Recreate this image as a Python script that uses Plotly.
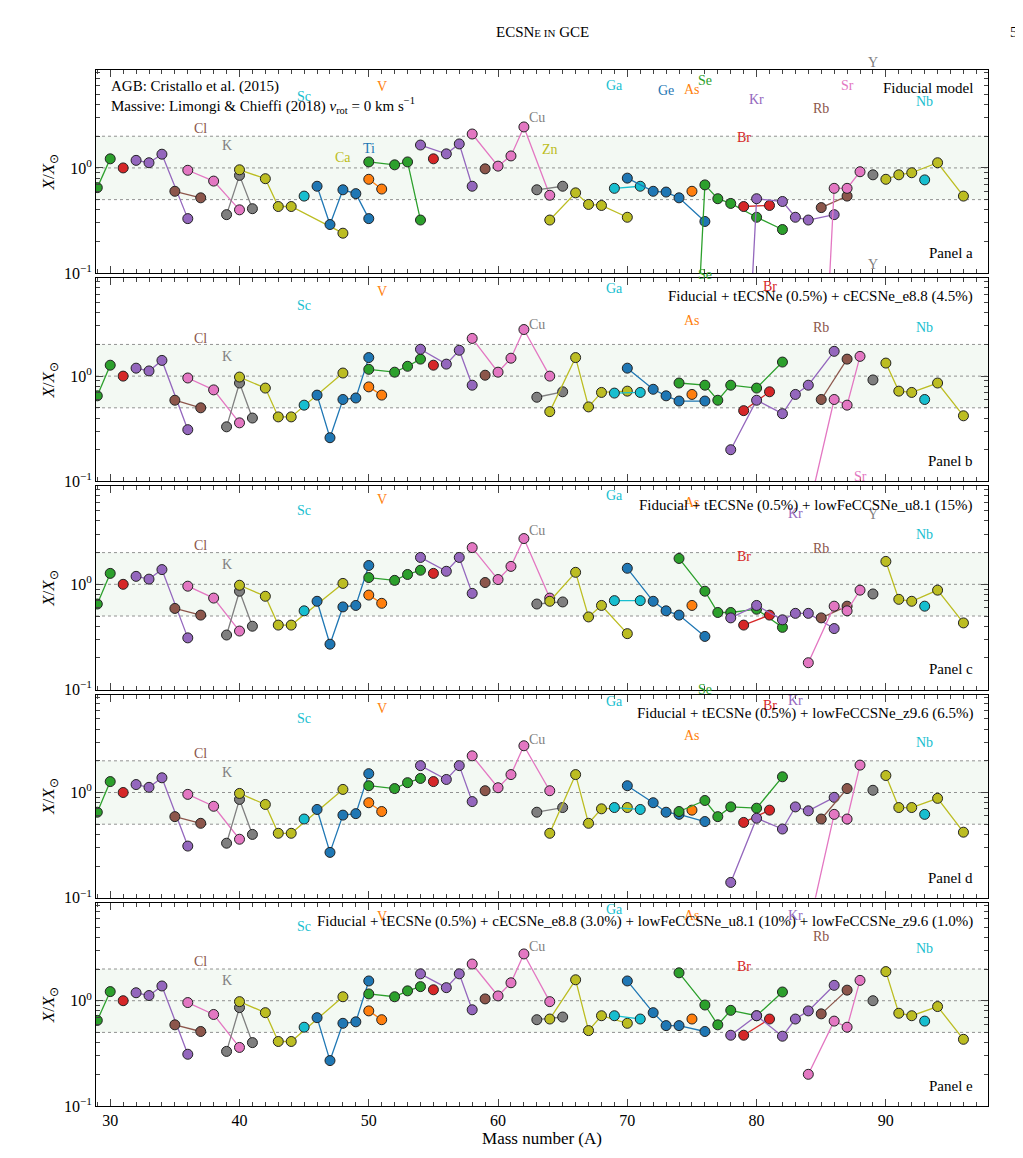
import plotly.graph_objects as go
from plotly.subplots import make_subplots

elements = ["Si","P","S","Cl","Ar","K","Ca","Sc","Ti","V","Cr","Mn","Fe","Co","Ni","Cu","Zn","Ga","Ge","As","Se","Br","Kr","Rb","Sr","Y","Zr","Nb"]
masses = {
 "Si":[29,30],"P":[31],"S":[32,33,34,36],"Cl":[35,37],"Ar":[36,38,40],"K":[39,40,41],
 "Ca":[40,42,43,44,48],"Sc":[45],"Ti":[46,47,48,49,50],"V":[50,51],"Cr":[50,52,53,54],
 "Mn":[55],"Fe":[54,56,57,58],"Co":[59],"Ni":[58,60,61,62,64],"Cu":[63,65],
 "Zn":[64,66,67,68,70],"Ga":[69,71],"Ge":[70,72,73,74,76],"As":[75],
 "Se":[74,76,77,78,80,82],"Br":[79,81],"Kr":[78,80,82,83,84,86],"Rb":[85,87],
 "Sr":[84,86,87,88],"Y":[89],"Zr":[90,91,92,94,96],"Nb":[93]}

panel_a = {"Si":[0.65,1.22],"P":[1.0],"S":[1.18,1.12,1.35,0.33],"Cl":[0.6,0.52],"Ar":[0.95,0.75,0.4],
 "K":[0.36,0.85,0.41],"Ca":[0.96,0.79,0.43,0.43,0.24],"Sc":[0.54],"Ti":[0.67,0.29,0.62,0.57,0.33],
 "V":[0.78,0.63],"Cr":[1.14,1.07,1.14,0.32],"Mn":[1.22],"Fe":[1.65,1.36,1.69,0.67],"Co":[0.98],
 "Ni":[2.1,1.04,1.3,2.45,0.55],"Cu":[0.62,0.67],"Zn":[0.32,0.58,0.45,0.44,0.34],"Ga":[0.64,0.67],
 "Ge":[0.8,0.6,0.59,0.52,0.31],"As":[0.6],"Se":[1e-5,0.69,0.51,0.46,0.34,0.26],"Br":[0.43,0.44],
 "Kr":[1e-5,0.51,0.48,0.34,0.32,0.36],"Rb":[0.42,0.54],"Sr":[1e-5,0.64,0.64,0.92],"Y":[0.86],
 "Zr":[0.78,0.86,0.9,1.12,0.54],"Nb":[0.77]}
panel_b = {"Si":[0.65,1.27],"P":[1.0],"S":[1.19,1.12,1.41,0.31],"Cl":[0.59,0.5],"Ar":[0.96,0.74,0.36],
 "K":[0.33,0.86,0.4],"Ca":[0.98,0.77,0.41,0.41,1.07],"Sc":[0.53],"Ti":[0.66,0.26,0.6,0.62,1.5],
 "V":[0.79,0.66],"Cr":[1.16,1.09,1.24,1.45],"Mn":[1.27],"Fe":[1.8,1.3,1.76,0.82],"Co":[1.02],
 "Ni":[2.28,1.09,1.48,2.77,1.0],"Cu":[0.63,0.71],"Zn":[0.46,1.5,0.51,0.7,0.72],"Ga":[0.69,0.7],
 "Ge":[1.19,0.75,0.65,0.58,0.58],"As":[0.67],"Se":[0.86,0.82,0.59,0.82,0.77,1.36],"Br":[0.47,0.71],
 "Kr":[0.2,0.59,0.44,0.67,0.82,1.72],"Rb":[0.6,1.45],"Sr":[0.052,0.6,0.53,1.54],"Y":[0.92],
 "Zr":[1.33,0.72,0.7,0.86,0.42],"Nb":[0.6]}
panel_c = {"Si":[0.65,1.27],"P":[1.0],"S":[1.19,1.12,1.38,0.31],"Cl":[0.59,0.51],"Ar":[0.96,0.74,0.36],
 "K":[0.33,0.86,0.4],"Ca":[0.98,0.77,0.41,0.41,1.02],"Sc":[0.56],"Ti":[0.69,0.27,0.61,0.63,1.51],
 "V":[0.79,0.66],"Cr":[1.16,1.09,1.24,1.36],"Mn":[1.27],"Fe":[1.8,1.33,1.8,0.82],"Co":[1.04],
 "Ni":[2.23,1.11,1.48,2.72,0.74],"Cu":[0.65,0.68],"Zn":[0.69,1.3,0.49,0.63,0.34],"Ga":[0.7,0.7],
 "Ge":[1.42,0.69,0.56,0.51,0.32],"As":[0.63],"Se":[1.76,0.86,0.54,0.54,0.58,0.39],"Br":[0.41,0.51],
 "Kr":[0.48,0.63,0.46,0.53,0.53,0.38],"Rb":[0.48,0.62],"Sr":[0.18,0.62,0.56,0.88],"Y":[0.81],
 "Zr":[1.65,0.72,0.69,0.88,0.43],"Nb":[0.62]}
panel_d = {"Si":[0.65,1.27],"P":[1.0],"S":[1.19,1.12,1.38,0.31],"Cl":[0.59,0.51],"Ar":[0.96,0.74,0.36],
 "K":[0.33,0.86,0.4],"Ca":[0.98,0.77,0.41,0.41,1.07],"Sc":[0.56],"Ti":[0.69,0.27,0.61,0.63,1.51],
 "V":[0.8,0.66],"Cr":[1.16,1.09,1.24,1.36],"Mn":[1.27],"Fe":[1.8,1.33,1.8,0.82],"Co":[1.04],
 "Ni":[2.23,1.11,1.48,2.78,1.04],"Cu":[0.65,0.72],"Zn":[0.41,1.48,0.51,0.7,0.72],"Ga":[0.72,0.69],
 "Ge":[1.16,0.8,0.65,0.62,0.53],"As":[0.68],"Se":[0.66,0.84,0.59,0.73,0.71,1.41],"Br":[0.52,0.68],
 "Kr":[0.14,0.57,0.45,0.73,0.67,0.9],"Rb":[0.56,1.09],"Sr":[0.05,0.62,0.56,1.82],"Y":[1.05],
 "Zr":[1.45,0.72,0.72,0.88,0.42],"Nb":[0.62]}
panel_e = {"Si":[0.65,1.22],"P":[1.0],"S":[1.19,1.12,1.38,0.31],"Cl":[0.59,0.51],"Ar":[0.96,0.74,0.36],
 "K":[0.33,0.86,0.4],"Ca":[0.98,0.77,0.41,0.41,1.09],"Sc":[0.56],"Ti":[0.69,0.27,0.61,0.63,1.54],
 "V":[0.8,0.66],"Cr":[1.16,1.09,1.24,1.36],"Mn":[1.27],"Fe":[1.8,1.33,1.8,0.82],"Co":[1.04],
 "Ni":[2.23,1.11,1.48,2.78,0.98],"Cu":[0.66,0.7],"Zn":[0.67,1.58,0.52,0.72,0.61],"Ga":[0.72,0.67],
 "Ge":[1.54,0.77,0.58,0.58,0.51],"As":[0.67],"Se":[1.84,0.91,0.59,0.81,0.72,1.21],"Br":[0.47,0.67],
 "Kr":[0.47,0.72,0.46,0.67,0.8,1.4],"Rb":[0.75,1.26],"Sr":[0.2,0.64,0.56,1.56],"Y":[1.0],
 "Zr":[1.89,0.76,0.72,0.88,0.43],"Nb":[0.64]}
panels = [panel_a, panel_b, panel_c, panel_d, panel_e]

titles = ["Fiducial model",
 "Fiducial + tECSNe (0.5%) + cECSNe_e8.8 (4.5%)",
 "Fiducial + tECSNe (0.5%) + lowFeCCSNe_u8.1 (15%)",
 "Fiducial + tECSNe (0.5%) + lowFeCCSNe_z9.6 (6.5%)",
 "Fiducial + tECSNe (0.5%) + cECSNe_e8.8 (3.0%) + lowFeCCSNe_u8.1 (10%) + lowFeCCSNe_z9.6 (1.0%)"]
panel_names = ["Panel a","Panel b","Panel c","Panel d","Panel e"]

# label placement: element -> (mass, side)
label_default = {"Si":(30,1),"P":(31,-1),"S":(34,1),"Cl":(37,-1),"Ar":(36,1),"K":(39,-1),
 "Ca":(48,1),"Sc":(45,1),"Ti":(50,1),"V":(51,1),"Cr":(50,1),"Mn":(55,-1),"Fe":(54,1),
 "Co":(59,-1),"Ni":(62,1),"Cu":(63,-1),"Zn":(66,1),"Ga":(69,1),"Ge":(70,1),"As":(75,1),
 "Se":(76,1),"Br":(79,-1),"Kr":(83,1),"Rb":(85,-1),"Sr":(88,1),"Y":(89,1),"Zr":(90,1),"Nb":(93,-1)}
label_override = [
 {"Ca":(48,-1),"Ti":(50,-1),"Zn":(64,-1),"Ge":(73,1),"Kr":(80,1),"Rb":(85,1),"Sr":(87,1),"Zr":(94,1)},
 {"As":(75,-1),"Br":(81,1),"Kr":(86,1)},
 {"Se":(74,1),"Y":(89,-1)},
 {"As":(75,-1),"Br":(81,1),"Rb":(87,1)},
 {"Se":(74,1)},
]

tab10 = ["#2ca02c","#d62728","#9467bd","#8c564b","#e377c2","#7f7f7f","#bcbd22","#17becf","#1f77b4","#ff7f0e"]
SERIF = "Liberation Serif"

fig = make_subplots(rows=5, cols=1, shared_xaxes=True, vertical_spacing=0.0048)

for p, data in enumerate(panels):
    row = p + 1
    for i, el in enumerate(elements):
        col = tab10[i % 10]
        fig.add_trace(go.Scatter(x=masses[el], y=data[el], mode="lines+markers",
            line=dict(color=col, width=1.3),
            marker=dict(color=col, size=10, line=dict(color="#222", width=1)),
            showlegend=False, hoverinfo="skip"), row=row, col=1)
    xr = "x" if row == 1 else f"x{row}"
    yr = "y" if row == 1 else f"y{row}"
    fig.add_shape(type="rect", xref=f"{xr} domain", yref=yr, x0=0, x1=1, y0=0.5, y1=2,
                  fillcolor="rgba(44,160,44,0.06)", line=dict(width=0), layer="below")
    for v in [0.5, 1, 2]:
        fig.add_shape(type="line", xref=f"{xr} domain", yref=yr, x0=0, x1=1, y0=v, y1=v,
                      line=dict(color="#777", width=0.8, dash="dot"), layer="below")
    ov = dict(label_default); ov.update(label_override[p])
    for i, el in enumerate(elements):
        m, side = ov[el]
        y = data[el][masses[el].index(m)]
        fig.add_annotation(x=m, y=y, xref=xr, yref=yr, text=el, showarrow=False,
            yshift=15*side, font=dict(family=SERIF, size=14, color=tab10[i % 10]))
    fig.add_annotation(xref=f"{xr} domain", yref=f"{yr} domain", x=0.985, y=0.96, text=titles[p],
        showarrow=False, xanchor="right", yanchor="top", font=dict(family=SERIF, size=15, color="black"))
    fig.add_annotation(xref=f"{xr} domain", yref=f"{yr} domain", x=0.985, y=0.05, text=panel_names[p],
        showarrow=False, xanchor="right", yanchor="bottom", font=dict(family=SERIF, size=15, color="black"))
    fig.update_yaxes(row=row, col=1, type="log", range=[-1, 0.93],
        tickvals=[0.1, 1], ticktext=["10<sup>−1</sup>", "10<sup>0</sup>"],
        ticks="inside", ticklen=7, showline=True, linecolor="black", linewidth=1, mirror="allticks",
        showgrid=False, zeroline=False,
        minor=dict(ticks="inside", ticklen=4, tickvals=[0.2,0.3,0.4,0.5,0.6,0.7,0.8,0.9,2,3,4,5,6,7,8], showgrid=False),
        title=dict(text="<i>X</i>/<i>X</i><sub>⊙</sub>", standoff=4, font=dict(family=SERIF, size=17)),
        tickfont=dict(family=SERIF, size=16))
    fig.update_xaxes(row=row, col=1, range=[28.9, 97.9], tickvals=[30,40,50,60,70,80,90],
        ticks="inside", ticklen=7, showline=True, linecolor="black", linewidth=1, mirror="allticks",
        showgrid=False, zeroline=False, showticklabels=(row == 5),
        minor=dict(ticks="inside", ticklen=4, dtick=1, showgrid=False),
        tickfont=dict(family=SERIF, size=16))

fig.update_xaxes(row=5, col=1, title=dict(text="Mass number (A)", standoff=2, font=dict(family=SERIF, size=17)))

fig.add_annotation(xref="x domain", yref="y domain", x=0.015, y=0.97, xanchor="left", yanchor="top",
    align="left", showarrow=False, font=dict(family=SERIF, size=15, color="black"),
    text="AGB: Cristallo et al. (2015)<br>Massive: Limongi &amp; Chieffi (2018) <i>v</i><sub>rot</sub> = 0 km s<sup>−1</sup>")

fig.add_annotation(xref="paper", yref="paper", x=0.5, y=1.0, yshift=48, showarrow=False,
    font=dict(family=SERIF, size=15, color="black"),
    text="ECSN<span style='font-size:11px'>E IN</span> GCE")
fig.add_annotation(xref="paper", yref="paper", x=1.0, y=1.0, yshift=48, xshift=32, showarrow=False,
    font=dict(family=SERIF, size=15, color="black"), text="5")

fig.update_layout(width=1023, height=1158, margin=dict(l=88, r=43, t=62, b=60),
    plot_bgcolor="white", paper_bgcolor="white", font=dict(family=SERIF, color="black"))

fig.write_html("out.html")
